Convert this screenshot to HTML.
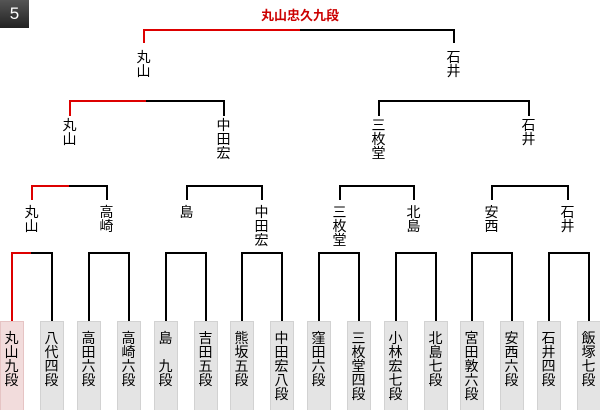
<!DOCTYPE html>
<html><head><meta charset="utf-8"><style>
body{margin:0;width:600px;height:410px;background:#fff;position:relative;overflow:hidden;font-family:"Liberation Sans","Noto Sans CJK JP",sans-serif}
.l{position:absolute;background:#000}
.r{background:#d00}
.t{position:absolute;width:20px;text-align:center;font-size:14px;line-height:14px;color:#000}
.b{position:absolute;top:321px;width:24px;height:89px;background:#e4e4e4;border:1px solid #d2d2d2;border-bottom:none;box-sizing:border-box;text-align:center;font-size:14px;line-height:14px;padding-top:9px}
</style></head><body>
<div style="position:absolute;left:0;top:0;width:29px;height:28px;background:linear-gradient(#555,#222);color:#fff;font-size:17px;text-align:center;line-height:28px">5</div>
<div style="position:absolute;left:200px;top:5px;width:200px;text-align:center;color:#c00;font-weight:bold;font-size:13px">丸山忠久九段</div>
<div id="c"></div>
<script>
var h='';
function H(x1,x2,y,r){x1=Math.round(x1);x2=Math.round(x2);h+='<div class="l'+(r?' r':'')+'" style="left:'+x1+'px;top:'+y+'px;width:'+(x2-x1+1)+'px;height:1.5px"></div>';}
function V(x,y1,y2,r){h+='<div class="l'+(r?' r':'')+'" style="left:'+Math.round(x)+'px;top:'+y1+'px;width:1.5px;height:'+(y2-y1)+'px"></div>';}
function T(x,y,s){h+='<div class="t" style="left:'+(x-9.5)+'px;top:'+y+'px">'+s.split('').join('<br>')+'</div>';}
H(143,300,29,1);H(300,453,29);V(143,29,43,1);V(453,29,43);
T(143,50,'丸山');T(453,50,'石井');
H(69,146,100,1);H(146,223,100);V(69,100,116,1);V(223,100,116);
H(378,528,100);V(378,100,116);V(528,100,116);
T(69,118,'丸山');T(223,118,'中田宏');T(378,118,'三枚堂');T(528,118,'石井');
var l3=[[31,106,'丸山','高崎'],[186,261,'島','中田宏'],[339,413,'三枚堂','北島'],[491,567,'安西','石井']];
l3.forEach(function(a,i){var m=(a[0]+a[1])/2;if(i==0){H(a[0],m,185,1);H(m,a[1],185);V(a[0],185,200,1);}else{H(a[0],a[1],185);V(a[0],185,200);}V(a[1],185,200);T(a[0],205,a[2]);T(a[1],205,a[3]);});
var L=[[11,51],[88,128],[165,205],[241,281],[318,358],[395,435],[471,511],[548,588]];
L.forEach(function(a,i){if(i==0){H(11,31,252,1);H(31,51,252);V(11,252,321,1);}else{H(a[0],a[1],252);V(a[0],252,321);}V(a[1],252,321);});
var N=['丸山九段','八代四段','高田六段','高崎六段','島　九段','吉田五段','熊坂五段','中田宏八段','窪田六段','三枚堂四段','小林宏七段','北島七段','宮田敦六段','安西六段','石井四段','飯塚七段'];
var X=[];L.forEach(function(a){X.push(a[0],a[1]);});
N.forEach(function(n,i){h+='<div class="b" style="left:'+(X[i]-11.5)+'px;'+(i==0?'background:#f2dcdc;border-color:#e6c4c4;':'')+'">'+n.split('').join('<br>')+'</div>';});
document.getElementById('c').innerHTML=h;
</script>
</body></html>
